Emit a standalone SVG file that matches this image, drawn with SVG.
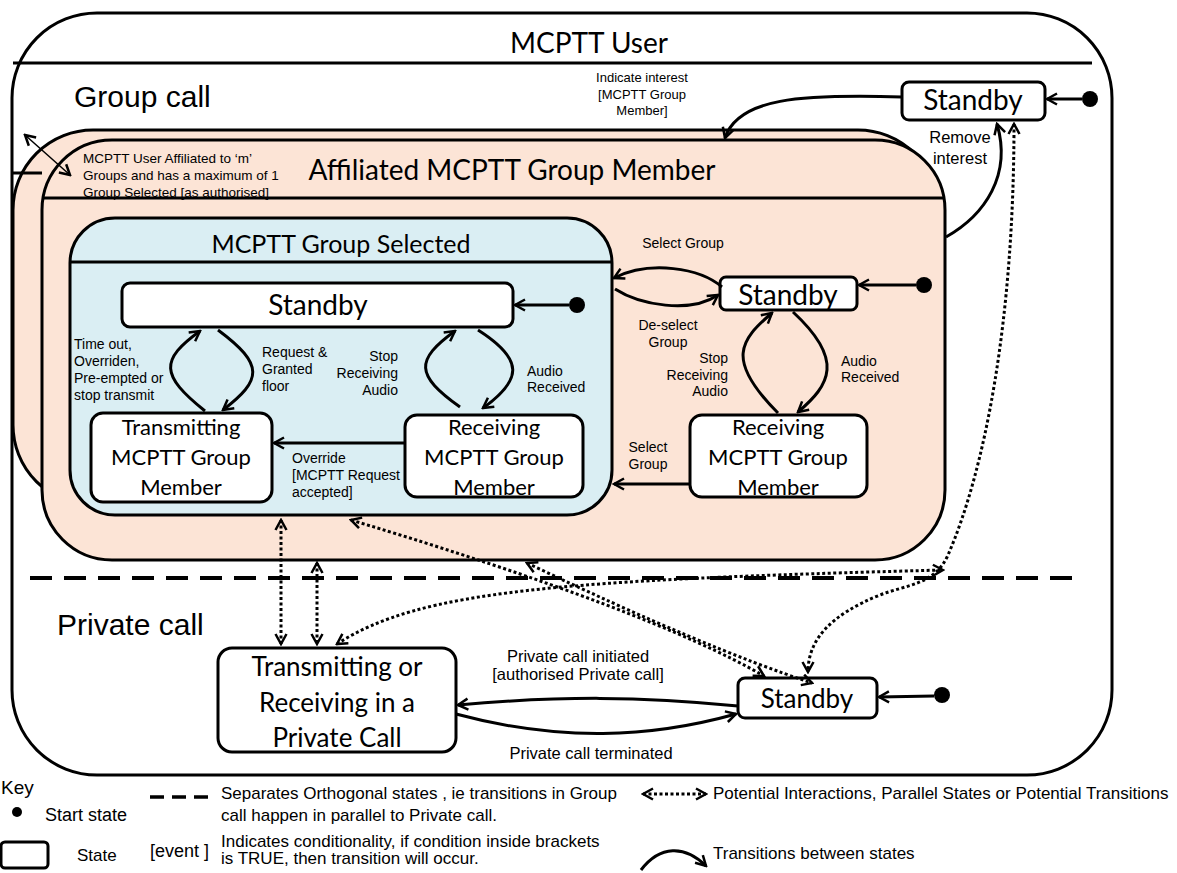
<svg xmlns="http://www.w3.org/2000/svg" width="1177" height="873" viewBox="0 0 1177 873">
<defs>
<marker id="ah" viewBox="0 0 14 14" refX="12" refY="7" markerWidth="14" markerHeight="14" markerUnits="userSpaceOnUse" orient="auto-start-reverse"><path d="M2,1.5 L12,7 L2,12.5" fill="none" stroke="#000" stroke-width="2.5"/></marker>
<style>
.c{font-family:Lato,"Open Sans",sans-serif;fill:#000}
.a{font-family:"Liberation Sans",Arial,sans-serif;fill:#000}
.box{fill:#fff;stroke:#000;stroke-width:3}
.tr{fill:none;stroke:#000;stroke-width:3}
.dot{fill:none;stroke:#000;stroke-width:3;stroke-dasharray:3 2.5}
.lbl{font-size:14px}
</style>
</defs>
<rect width="1177" height="873" fill="#fff"/>

<g id="mcptt-user">
<rect x="12" y="13" width="1100" height="762" rx="85" fill="#fff" stroke="#000" stroke-width="3"/>
<line x1="13" y1="63" x2="1092" y2="63" stroke="#000" stroke-width="3"/>
<text class="c" x="589" y="53" font-size="28" text-anchor="middle">MCPTT User</text>
<text class="a" x="74" y="107" font-size="30">Group call</text>
<text class="a" x="57" y="635" font-size="30">Private call</text>
<line x1="30" y1="578" x2="1080" y2="578" stroke="#000" stroke-width="4" stroke-dasharray="22 12"/>
</g>

<g id="affiliated-back">
<rect x="13" y="130" width="925" height="375" rx="80" fill="#fce4d6" stroke="#000" stroke-width="3"/>
<line x1="13" y1="173" x2="42" y2="173" stroke="#000" stroke-width="3"/>
</g>

<g id="affiliated">
<rect x="42" y="140" width="903" height="420" rx="70" fill="#fce4d6" stroke="#000" stroke-width="3"/>
<line x1="42" y1="198" x2="945" y2="198" stroke="#000" stroke-width="3"/>
<text class="c" x="512" y="180" font-size="28" text-anchor="middle">Affiliated MCPTT Group Member</text>
<text class="a" font-size="13.5"><tspan x="83" y="163">MCPTT User Affiliated to ‘m’</tspan><tspan x="83" y="180">Groups  and has a maximum of 1</tspan><tspan x="83" y="197">Group Selected [as authorised]</tspan></text>
</g>

<g id="group-selected">
<rect x="70" y="218" width="542" height="297" rx="45" fill="#daeef3" stroke="#000" stroke-width="3"/>
<line x1="70" y1="262" x2="612" y2="262" stroke="#000" stroke-width="3"/>
<text class="c" x="341" y="253" font-size="25" text-anchor="middle">MCPTT Group Selected</text>
</g>

<g id="gs-standby">
<rect class="box" x="122" y="283" width="391" height="44" rx="8"/>
<text class="c" x="318" y="315" font-size="28" text-anchor="middle">Standby</text>
<circle cx="577" cy="305" r="8"/>
</g>

<g id="gs-transmitting">
<rect class="box" x="91" y="413" width="181" height="89" rx="12"/>
<text class="c" font-size="22" text-anchor="middle"><tspan x="181" y="435">Transmitting</tspan><tspan x="181" y="465">MCPTT Group</tspan><tspan x="181" y="495">Member</tspan></text>
</g>

<g id="gs-receiving">
<rect class="box" x="405" y="415" width="178" height="82" rx="12"/>
<text class="c" font-size="22" text-anchor="middle"><tspan x="494" y="435">Receiving</tspan><tspan x="494" y="465">MCPTT Group</tspan><tspan x="494" y="495">Member</tspan></text>
</g>

<g id="aff-standby">
<rect class="box" x="720" y="277" width="137" height="33" rx="6"/>
<text class="c" x="788" y="305" font-size="28" text-anchor="middle">Standby</text>
<circle cx="924" cy="285" r="8"/>
</g>

<g id="aff-receiving">
<rect class="box" x="690" y="415" width="177" height="82" rx="12"/>
<text class="c" font-size="22" text-anchor="middle"><tspan x="778" y="435">Receiving</tspan><tspan x="778" y="465">MCPTT Group</tspan><tspan x="778" y="495">Member</tspan></text>
</g>

<g id="user-standby">
<rect class="box" x="902" y="82" width="143" height="38" rx="7"/>
<text class="c" x="973" y="110" font-size="28" text-anchor="middle">Standby</text>
<circle cx="1090" cy="99" r="8"/>
</g>

<g id="private-standby">
<rect class="box" x="738" y="678" width="139" height="40" rx="7"/>
<text class="c" x="807" y="708" font-size="26" text-anchor="middle">Standby</text>
<circle cx="942" cy="695" r="8"/>
</g>

<g id="private-call">
<rect class="box" x="218" y="648" width="238" height="104" rx="14"/>
<text class="c" font-size="26" text-anchor="middle"><tspan x="337" y="676">Transmitting or</tspan><tspan x="337" y="712">Receiving in a</tspan><tspan x="337" y="747">Private Call</tspan></text>
</g>

<g id="connectors">
<line class="tr" x1="569" y1="305" x2="515" y2="305" marker-end="url(#ah)"/>
<line class="tr" x1="916" y1="285" x2="859" y2="285" marker-end="url(#ah)"/>
<line class="tr" x1="1082" y1="99" x2="1047" y2="99" marker-end="url(#ah)"/>
<line class="tr" x1="934" y1="696" x2="879" y2="697" marker-end="url(#ah)"/>
<path class="tr" d="M205,411 C160,375 160,360 200,331" marker-end="url(#ah)"/>
<path class="tr" d="M218,330 C265,365 262,380 223,410" marker-end="url(#ah)"/>
<path class="tr" d="M460,407 C415,375 415,360 455,331" marker-end="url(#ah)"/>
<path class="tr" d="M478,330 C525,360 522,380 483,408" marker-end="url(#ah)"/>
<line class="tr" x1="405" y1="443" x2="274" y2="443" marker-end="url(#ah)"/>
<path class="tr" d="M722,287 C700,268 650,260 614,278" marker-end="url(#ah)"/>
<path class="tr" d="M615,289 C640,305 690,314 718,295" marker-end="url(#ah)"/>
<path class="tr" d="M778,413 C725,360 740,340 772,313" marker-end="url(#ah)"/>
<path class="tr" d="M793,312 C845,360 830,385 798,412" marker-end="url(#ah)"/>
<line class="tr" x1="690" y1="484" x2="614" y2="484" marker-end="url(#ah)"/>
<path class="tr" d="M902,97 C800,94 738,98 725,138" marker-end="url(#ah)"/>
<path class="tr" d="M946,237 C985,215 1012,175 997,124" marker-end="url(#ah)"/>
<path class="tr" d="M738,706 C640,696 560,696 458,705" marker-end="url(#ah)"/>
<path class="tr" d="M456,714 C560,742 650,738 736,714" marker-end="url(#ah)"/>
<line class="dot" x1="281" y1="520" x2="281" y2="644" marker-start="url(#ah)" marker-end="url(#ah)"/>
<line class="dot" x1="317" y1="563" x2="317" y2="644" marker-start="url(#ah)" marker-end="url(#ah)"/>
<path class="dot" d="M337,644 C420,590 560,580 943,570" marker-start="url(#ah)" marker-end="url(#ah)"/>
<path class="dot" d="M351,520 Q650,610 764,676" marker-start="url(#ah)" marker-end="url(#ah)"/>
<path class="dot" d="M527,563 Q705,648 812,683" marker-start="url(#ah)" marker-end="url(#ah)"/>
<path class="dot" d="M1014,124 C1014,320 985,470 948,555 C935,585 905,585 880,595 C830,615 808,640 808,672" marker-start="url(#ah)" marker-end="url(#ah)"/>
<line x1="25" y1="135" x2="70" y2="175" stroke="#000" stroke-width="1.5" marker-start="url(#ah)" marker-end="url(#ah)"/>
</g>

<g id="labels">
<text class="a" font-size="13" text-anchor="middle"><tspan x="642" y="82">Indicate interest</tspan><tspan x="642" y="99">[MCPTT Group</tspan><tspan x="642" y="115">Member]</tspan></text>
<text class="a" font-size="16.5" text-anchor="middle"><tspan x="960" y="143">Remove</tspan><tspan x="960" y="164">interest</tspan></text>
<text class="a lbl"><tspan x="74" y="349">Time out,</tspan><tspan x="74" y="366">Overriden,</tspan><tspan x="74" y="383">Pre-empted or</tspan><tspan x="74" y="400">stop transmit</tspan></text>
<text class="a lbl"><tspan x="262" y="357">Request &amp;</tspan><tspan x="262" y="374">Granted</tspan><tspan x="262" y="391">floor</tspan></text>
<text class="a lbl" text-anchor="end"><tspan x="398" y="361">Stop</tspan><tspan x="398" y="378">Receiving</tspan><tspan x="398" y="395">Audio</tspan></text>
<text class="a lbl"><tspan x="527" y="376">Audio</tspan><tspan x="527" y="392">Received</tspan></text>
<text class="a lbl"><tspan x="292" y="463">Override</tspan><tspan x="292" y="480">[MCPTT Request</tspan><tspan x="292" y="497">accepted]</tspan></text>
<text class="a lbl" x="683" y="248" text-anchor="middle">Select Group</text>
<text class="a lbl" text-anchor="middle"><tspan x="668" y="330">De-select</tspan><tspan x="668" y="347">Group</tspan></text>
<text class="a lbl" text-anchor="end"><tspan x="728" y="363">Stop</tspan><tspan x="728" y="380">Receiving</tspan><tspan x="728" y="396">Audio</tspan></text>
<text class="a lbl"><tspan x="841" y="366">Audio</tspan><tspan x="841" y="382">Received</tspan></text>
<text class="a lbl" text-anchor="middle"><tspan x="648" y="452">Select</tspan><tspan x="648" y="469">Group</tspan></text>
<text class="a" font-size="16.5" text-anchor="middle"><tspan x="578" y="662">Private call initiated</tspan><tspan x="578" y="680">[authorised Private call]</tspan></text>
<text class="a" font-size="16.5" x="591" y="759" text-anchor="middle">Private call terminated</text>
</g>

<g id="legend">
<text class="a" x="1" y="794" font-size="19">Key</text>
<circle cx="17" cy="812" r="5"/>
<text class="a" x="45" y="821" font-size="18">Start state</text>
<rect x="1" y="842" width="47" height="26" rx="4" fill="#fff" stroke="#000" stroke-width="3"/>
<text class="a" x="77" y="861" font-size="17">State</text>
<line x1="150" y1="797" x2="212" y2="797" stroke="#000" stroke-width="3.5" stroke-dasharray="14 8"/>
<text class="a" font-size="17"><tspan x="221" y="799">Separates Orthogonal states , ie transitions in Group</tspan><tspan x="221" y="821">call happen in parallel to Private call.</tspan></text>
<text class="a" x="150" y="857" font-size="18">[event ]</text>
<text class="a" font-size="17"><tspan x="221" y="847">Indicates conditionality, if condition inside brackets</tspan><tspan x="221" y="864">is TRUE, then transition will occur.</tspan></text>
<line class="dot" x1="643" y1="794" x2="706" y2="794" marker-start="url(#ah)" marker-end="url(#ah)"/>
<text class="a" x="713" y="799" font-size="17">Potential Interactions, Parallel States or Potential Transitions</text>
<path class="tr" d="M641,870 C660,845 685,845 706,866" marker-end="url(#ah)"/>
<text class="a" x="713" y="859" font-size="17">Transitions between states</text>
</g>
</svg>
